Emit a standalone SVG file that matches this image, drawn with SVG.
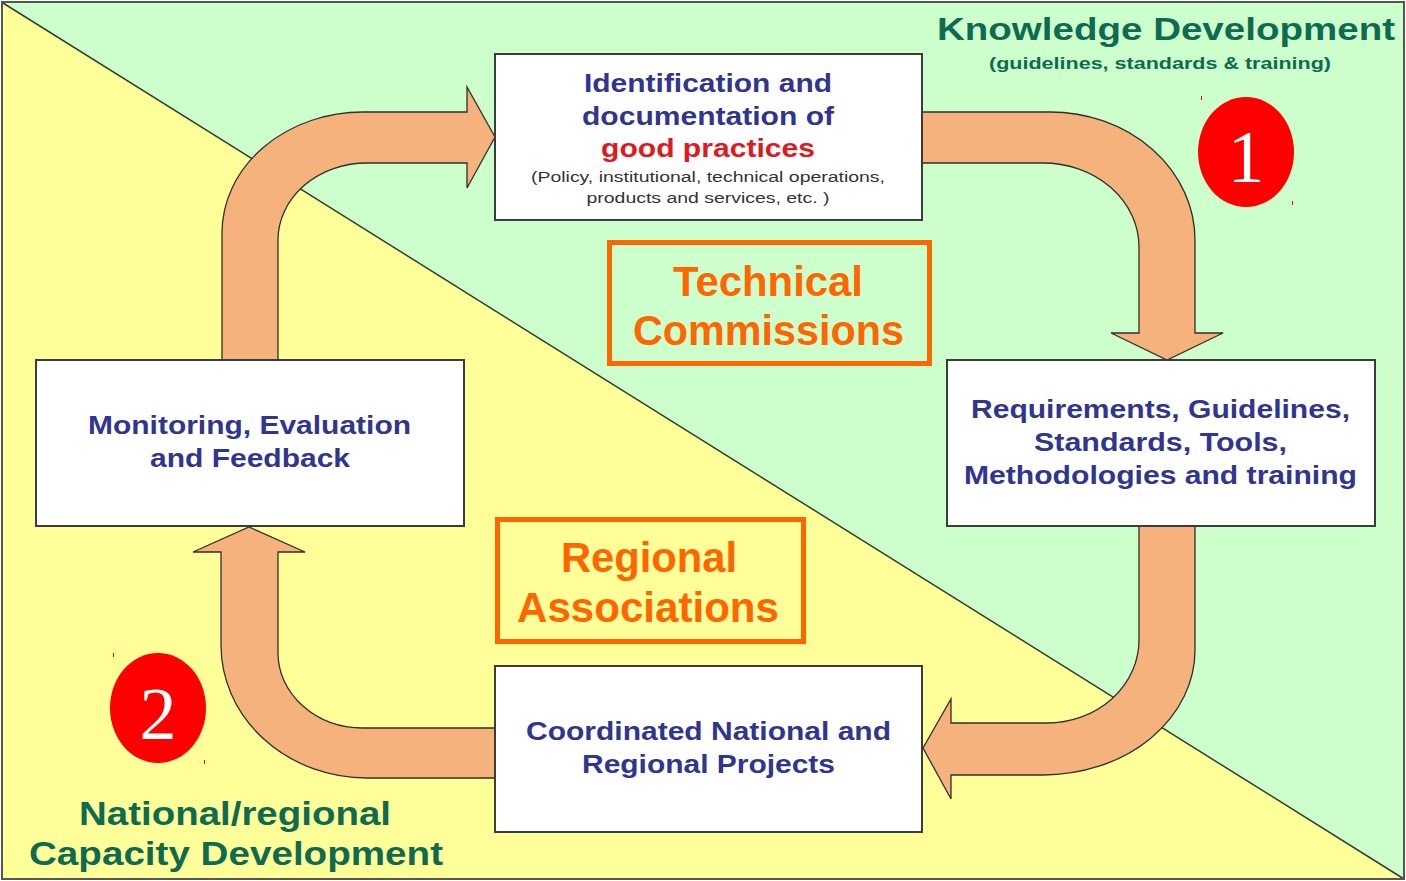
<svg xmlns="http://www.w3.org/2000/svg" width="1406" height="881" viewBox="0 0 1406 881">
  <style>
    .box { fill: #ffffff; stroke: #3c3c3c; stroke-width: 2; }
    .tag { fill: none; stroke: #ff6600; stroke-width: 5; }
    .flow { fill: #f5b27c; stroke: #2f2f2f; stroke-width: 1.3; stroke-linejoin: miter; }
    .lbl { font-family: "Liberation Sans", Arial, sans-serif; font-weight: bold; font-size: 26px; fill: #303590; text-anchor: middle; }
    .red { fill: #e0191e; }
    .note { font-family: "Liberation Sans", Arial, sans-serif; font-weight: normal; font-size: 15.5px; fill: #333333; text-anchor: middle; }
    .orange { font-family: "Liberation Sans", Arial, sans-serif; font-weight: bold; font-size: 43px; fill: #ff6600; text-anchor: middle; }
    .green { font-family: "Liberation Sans", Arial, sans-serif; font-weight: bold; fill: #0f6b4f; }
    .num { font-family: "Liberation Serif", "Times New Roman", serif; font-size: 74px; fill: #ffffff; text-anchor: middle; }
  </style>

  <!-- background: two domains split by the diagonal -->
  <g id="background">
    <rect x="2" y="2" width="1402" height="877" fill="#ccffcc"/>
    <polygon points="2,2 2,879 1404,879" fill="#ffff99"/>
    <line x1="3" y1="3" x2="1404" y2="879" stroke="#2f3f2f" stroke-width="1.5"/>
    <rect x="2" y="2" width="1402" height="877" fill="none" stroke="#555555" stroke-width="2"/>
  </g>

  <!-- domain headings -->
  <g id="knowledge-development">
    <text class="green" x="937" y="40" font-size="31" textLength="458" lengthAdjust="spacingAndGlyphs">Knowledge Development</text>
    <text class="green" x="989" y="69" font-size="16" textLength="342" lengthAdjust="spacingAndGlyphs">(guidelines, standards &amp; training)</text>
  </g>
  <g id="capacity-development">
    <text class="green" x="79" y="825" font-size="33" textLength="312" lengthAdjust="spacingAndGlyphs">National/regional</text>
    <text class="green" x="29" y="865" font-size="33" textLength="414" lengthAdjust="spacingAndGlyphs">Capacity Development</text>
  </g>

  <!-- cycle connectors -->
  <g id="connectors">
    <path class="flow" d="M 222 360 L 222 233 A 141 121 0 0 1 363 112 L 467 112 L 467 87 L 495 137 L 467 188 L 467 163 L 367 163 A 89 77 0 0 0 278 240 L 278 360 Z"/>
    <path class="flow" d="M 922 112 L 1050 112 A 145 128 0 0 1 1195 240 L 1195 333 L 1223 333 L 1167 360 L 1111 333 L 1139 333 L 1139 247 A 96 84 0 0 0 1043 163 L 922 163 Z"/>
    <path class="flow" d="M 1139 526 L 1195 526 L 1195 650 A 152 125 0 0 1 1043 775 L 951 775 L 951 799 L 923 748 L 951 699 L 951 723 L 1047 723 A 92 83 0 0 0 1139 640 Z"/>
    <path class="flow" d="M 495 728 L 363 728 A 85 75 0 0 1 278 653 L 278 552 L 305 552 L 249 527 L 193 552 L 221 552 L 221 645 A 146 133 0 0 0 367 778 L 495 778 Z"/>
  </g>

  <!-- process steps -->
  <g id="good-practices">
    <rect class="box" x="495" y="54" width="427" height="166"/>
    <text class="lbl" x="708" y="92" textLength="248" lengthAdjust="spacingAndGlyphs">Identification and</text>
    <text class="lbl" x="708" y="125" textLength="252" lengthAdjust="spacingAndGlyphs">documentation of</text>
    <text class="lbl red" x="708" y="157" textLength="214" lengthAdjust="spacingAndGlyphs">good practices</text>
    <text class="note" x="708" y="182" textLength="354" lengthAdjust="spacingAndGlyphs">(Policy, institutional, technical operations,</text>
    <text class="note" x="708" y="203" textLength="243" lengthAdjust="spacingAndGlyphs">products and services, etc. )</text>
  </g>

  <g id="requirements">
    <rect class="box" x="947" y="360" width="428" height="166"/>
    <text class="lbl" x="1160.5" y="418" textLength="379" lengthAdjust="spacingAndGlyphs">Requirements, Guidelines,</text>
    <text class="lbl" x="1160.5" y="451" textLength="253" lengthAdjust="spacingAndGlyphs">Standards, Tools,</text>
    <text class="lbl" x="1160.5" y="484" textLength="393" lengthAdjust="spacingAndGlyphs">Methodologies and training</text>
  </g>

  <g id="projects">
    <rect class="box" x="495" y="666" width="427" height="166"/>
    <text class="lbl" x="708.5" y="740" textLength="365" lengthAdjust="spacingAndGlyphs">Coordinated National and</text>
    <text class="lbl" x="708.5" y="773" textLength="253" lengthAdjust="spacingAndGlyphs">Regional Projects</text>
  </g>

  <g id="monitoring">
    <rect class="box" x="36" y="360" width="428" height="166"/>
    <text class="lbl" x="249.5" y="434" textLength="323" lengthAdjust="spacingAndGlyphs">Monitoring, Evaluation</text>
    <text class="lbl" x="250" y="467" textLength="200" lengthAdjust="spacingAndGlyphs">and Feedback</text>
  </g>

  <!-- actors -->
  <g id="technical-commissions">
    <rect class="tag" x="609.5" y="242.5" width="320" height="121"/>
    <text class="orange" x="768" y="296" textLength="190" lengthAdjust="spacingAndGlyphs">Technical</text>
    <text class="orange" x="768.5" y="345" textLength="271" lengthAdjust="spacingAndGlyphs">Commissions</text>
  </g>

  <g id="regional-associations">
    <rect class="tag" x="497.5" y="519.5" width="306" height="122"/>
    <text class="orange" x="649" y="572" textLength="176" lengthAdjust="spacingAndGlyphs">Regional</text>
    <text class="orange" x="648" y="622" textLength="262" lengthAdjust="spacingAndGlyphs">Associations</text>
  </g>

  <!-- numbered markers -->
  <g id="marker-1">
    <rect x="1201" y="96" width="1" height="4" fill="#ff0000"/>
    <rect x="1292" y="201" width="1" height="4" fill="#ff0000"/>
    <ellipse cx="1246" cy="152" rx="48" ry="55" fill="#ff0000"/>
    <text class="num" x="1246" y="182">1</text>
  </g>
  <g id="marker-2">
    <rect x="113" y="653" width="1" height="4" fill="#ff0000"/>
    <rect x="204" y="760" width="1" height="4" fill="#ff0000"/>
    <ellipse cx="158" cy="708" rx="48" ry="55" fill="#ff0000"/>
    <text class="num" x="158" y="739">2</text>
  </g>
</svg>
